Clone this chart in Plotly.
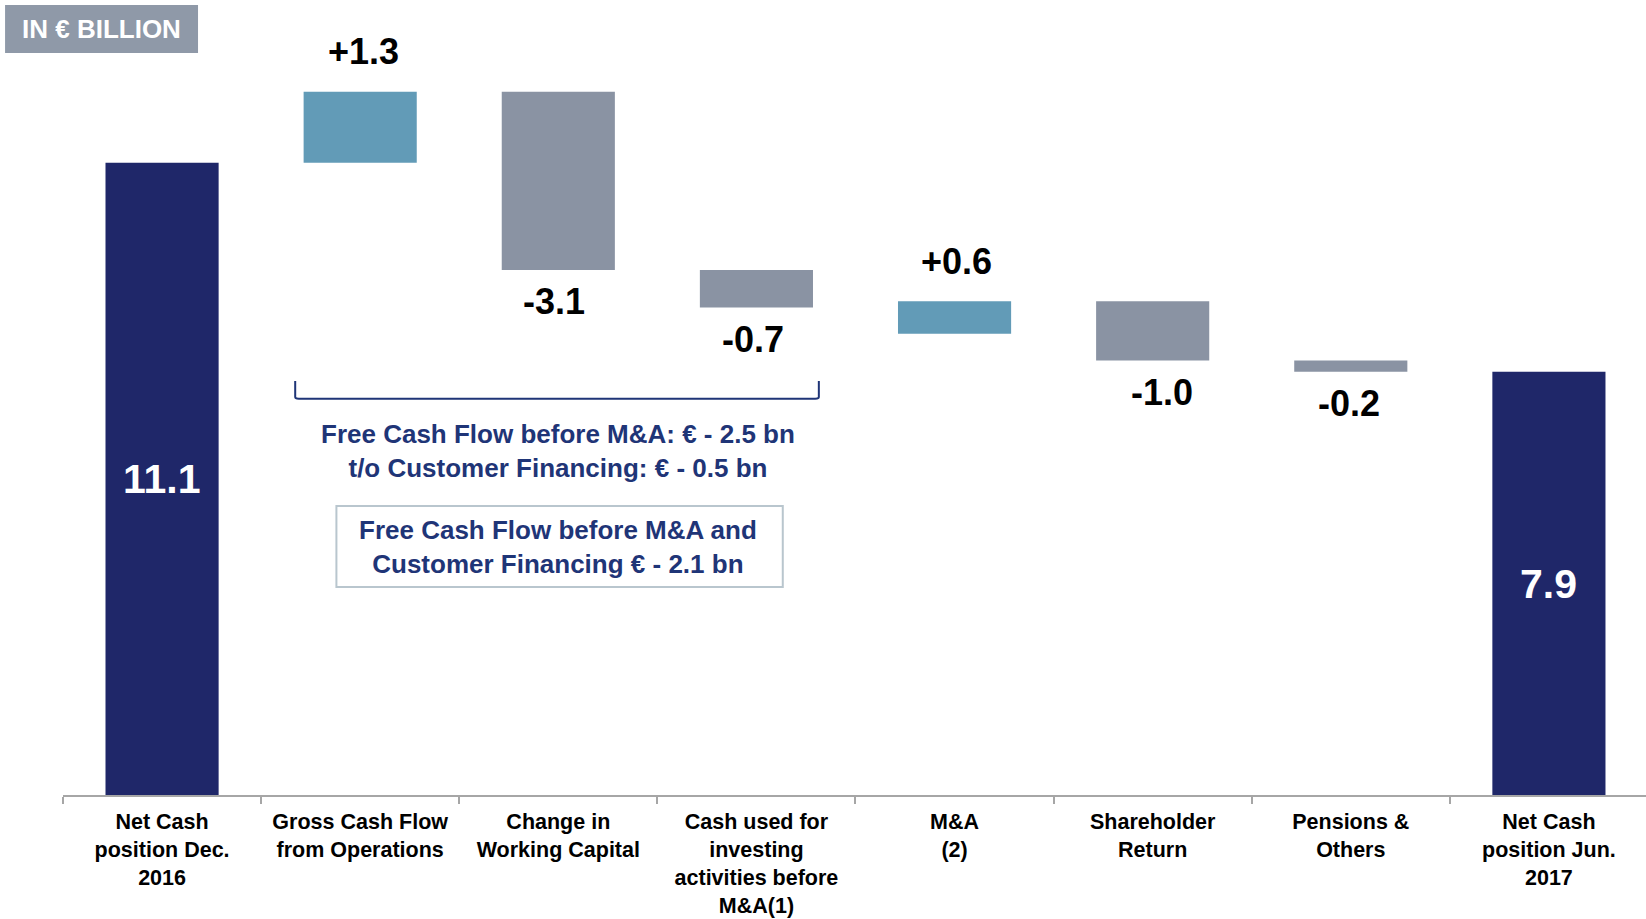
import plotly.graph_objects as go

# ---- data ----
categories = [
    "Net Cash<br>position Dec.<br>2016",
    "Gross Cash Flow<br>from Operations",
    "Change in<br>Working Capital",
    "Cash used for<br>investing<br>activities before<br>M&A(1)",
    "M&A<br>(2)",
    "Shareholder<br>Return",
    "Pensions &<br>Others",
    "Net Cash<br>position Jun.<br>2017",
]
value_labels = ["11.1", "+1.3", "-3.1", "-0.7", "+0.6", "-1.0", "-0.2", "7.9"]
bar_low = [0.0, 11.1, 9.22, 8.56, 8.10, 7.63, 7.43, 0.0]
bar_high = [11.1, 12.35, 12.35, 9.22, 8.67, 8.67, 7.63, 7.43]
bar_kind = ["total", "up", "down", "down", "up", "down", "down", "total"]

NAVY = "#1f2769"
TEAL = "#629bb7"
GREY = "#8a93a3"
TXT_NAVY = "#1f3577"
FONT = "Liberation Sans, Arial, sans-serif"
color_map = {"total": NAVY, "up": TEAL, "down": GREY}
label_xshift = {1: 3, 2: -4, 3: -3, 4: 2, 5: 9, 6: -2}

fig = go.Figure()
fig.add_trace(go.Bar(
    x=categories,
    y=[h - l for h, l in zip(bar_high, bar_low)],
    base=bar_low,
    width=0.571,
    marker=dict(color=[color_map[k] for k in bar_kind], line=dict(width=0)),
    hoverinfo="skip",
))

annotations = []
for i, (lab, kind) in enumerate(zip(value_labels, bar_kind)):
    if kind == "total":
        annotations.append(dict(x=i, y=bar_high[i] / 2, text=lab, showarrow=False,
                                font=dict(family=FONT, size=41, color="white", weight="bold")))
    elif kind == "up":
        annotations.append(dict(x=i, y=bar_high[i], text=lab, showarrow=False,
                                xshift=label_xshift.get(i, 0),
                                font=dict(family=FONT, size=36, color="black", weight="bold"),
                                yshift=40))
    else:
        annotations.append(dict(x=i, y=bar_low[i], text=lab, showarrow=False,
                                xshift=label_xshift.get(i, 0),
                                font=dict(family=FONT, size=36, color="black", weight="bold"),
                                yshift=-32))

# total labels sit at these heights in the reference
annotations[0]["y"] = 5.55
annotations[7]["y"] = 3.70

annotations.append(dict(
    x=2.0, y=6.04, xref="x", yref="y", showarrow=False,
    text="Free Cash Flow before M&A: € - 2.5 bn<br>t/o Customer Financing: € - 0.5 bn",
    font=dict(family=FONT, size=26, color=TXT_NAVY, weight="bold"),
))
annotations.append(dict(
    x=2.0, y=4.36, xref="x", yref="y", showarrow=False,
    text="Free Cash Flow before M&A and<br>Customer Financing € - 2.1 bn",
    font=dict(family=FONT, size=26, color=TXT_NAVY, weight="bold"),
))
annotations.append(dict(
    x=0.0243, y=0.9635, xref="paper", yref="paper", showarrow=False,
    xanchor="center", yanchor="middle",
    text="IN € BILLION", font=dict(family=FONT, size=26, color="white", weight="bold"),
))

shapes = [
    # bracket
    dict(type="path", xref="x", yref="y",
         path="M 0.672 7.27 L 0.672 6.99 Q 0.672 6.96 0.69 6.96 L 3.297 6.96 Q 3.315 6.96 3.315 6.99 L 3.315 7.27",
         line=dict(color=TXT_NAVY, width=2)),
    # box
    dict(type="rect", xref="x", yref="y", x0=0.88, x1=3.133, y0=3.654, y1=5.076,
         line=dict(color="#b9c6ce", width=2), fillcolor="rgba(0,0,0,0)"),
    # unit box
    dict(type="rect", xref="paper", yref="paper", x0=-0.0366, x1=0.0853, y0=0.9333, y1=0.9937,
         line=dict(width=0), fillcolor="#8f99a8", layer="below"),
]

fig.update_layout(
    width=1646, height=919,
    margin=dict(l=63, r=0, t=0, b=124, autoexpand=False),
    paper_bgcolor="white", plot_bgcolor="white",
    showlegend=False,
    annotations=annotations,
    shapes=shapes,
    xaxis=dict(
        type="category", range=[-0.5, 7.49], automargin=False,
        showline=True, linecolor="#a6a6a6", linewidth=2,
        ticks="outside", tickson="boundaries", ticklen=7, tickcolor="#a6a6a6", tickwidth=1.5,
        ticklabelstandoff=6,
        tickfont=dict(family=FONT, size=21.5, color="black", weight="bold"),
        showgrid=False, zeroline=False, fixedrange=True,
    ),
    yaxis=dict(
        range=[0, 13.96], visible=False, showgrid=False, zeroline=False, fixedrange=True,
        automargin=False,
    ),
)

fig.write_html("out.html", config={"displayModeBar": False},
               post_script="document.body.style.margin='0px';")
